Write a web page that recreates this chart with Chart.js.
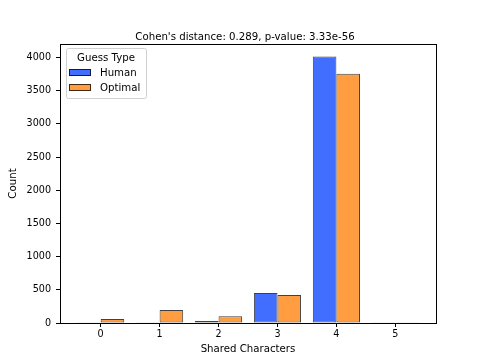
<!DOCTYPE html>
<html>
<head>
<meta charset="utf-8">
<script src="https://cdn.jsdelivr.net/npm/chart.js@4"></script>
<style>
  html, body { margin: 0; padding: 0; background: #fff; }
  #wrap { width: 484px; height: 363px; }
</style>
</head>
<body>
<div id="wrap"><canvas id="chart" width="484" height="363"></canvas></div>
<script>
// Дані гістограми: кількість спільних символів для людських і оптимальних здогадок.
const SHARED_CHARS = [0, 1, 2, 3, 4, 5];
const HUMAN_COUNTS = [10, 5, 30, 453, 4012, 2];
const OPTIMAL_COUNTS = [60, 196, 100, 423, 3755, 2];
const Y_TICKS = [0, 500, 1000, 1500, 2000, 2500, 3000, 3500, 4000];
const SERIES_NAMES = ["Human", "Optimal"];
const TITLE = "Cohen's distance: 0.289, p-value: 3.33e-56";

const COLORS = ["rgb(65,110,255)", "rgb(255,157,64)"];
const EDGE = "rgba(0,0,0,0.75)";
const FONT = "'DejaVu Sans', sans-serif";
const FSIZE = 10.2;   // заголовки, легенда
const TSIZE = 9.6;    // підписи поділок

const toPoints = (vals) => vals.map((v, i) => ({ x: SHARED_CHARS[i], y: v }));

// рамка навколо області графіка (як spines у matplotlib) + заголовок над нею
const frame = {
  id: "frame",
  afterDatasetsDraw(chart) {
    const { ctx, chartArea: a } = chart;
    ctx.save();
    ctx.strokeStyle = "#000";
    ctx.lineWidth = 1;
    ctx.strokeRect(Math.round(a.left) + 0.5, Math.round(a.top) + 0.5,
      Math.round(a.right - a.left), Math.round(a.bottom - a.top));
    ctx.font = `${FSIZE}px ${FONT}`;
    ctx.fillStyle = "#000";
    ctx.textAlign = "center";
    ctx.textBaseline = "middle";
    ctx.fillText(TITLE, (a.left + a.right) / 2 - 3, a.top - 7);
    ctx.restore();
  }
};

// легенда всередині області графіка, зліва вгорі
const innerLegend = {
  id: "innerLegend",
  afterDraw(chart) {
    const { ctx, chartArea: a } = chart;
    const x = a.left + 6, y = a.top + 4, w = 80, h = 50;
    ctx.save();
    ctx.fillStyle = "rgba(255,255,255,0.8)";
    ctx.strokeStyle = "#d0d0d0";
    ctx.lineWidth = 1;
    ctx.beginPath();
    ctx.roundRect(x + 0.5, y + 0.5, w, h, 2);
    ctx.fill();
    ctx.stroke();
    ctx.font = `${FSIZE}px ${FONT}`;
    ctx.fillStyle = "#000";
    ctx.textBaseline = "middle";
    ctx.textAlign = "center";
    ctx.fillText("Guess Type", x + w / 2, y + 10);
    ctx.textAlign = "left";
    SERIES_NAMES.forEach((name, i) => {
      const ry = y + 21 + i * 15;
      ctx.fillStyle = COLORS[i];
      ctx.fillRect(x + 3, ry, 22, 7);
      ctx.strokeStyle = EDGE;
      ctx.strokeRect(x + 3.5, ry + 0.5, 21, 6);
      ctx.fillStyle = "#000";
      ctx.fillText(name, x + 34, ry + 4);
    });
    ctx.restore();
  }
};

new Chart(document.getElementById("chart"), {
  type: "bar",
  data: {
    datasets: SERIES_NAMES.map((name, i) => ({
      label: name,
      data: toPoints(i === 0 ? HUMAN_COUNTS : OPTIMAL_COUNTS),
      backgroundColor: COLORS[i],
      borderColor: EDGE,
      borderWidth: 1,
      borderSkipped: false,
      categoryPercentage: 0.8,
      barPercentage: 1
    }))
  },
  options: {
    responsive: false,
    animation: false,
    layout: { padding: { left: 0, right: 48, top: 44, bottom: 0 } },
    plugins: {
      legend: { display: false },
      tooltip: { enabled: false },
      title: { display: false }
    },
    scales: {
      x: {
        type: "linear",
        min: -0.69,
        max: 5.69,
        offset: false,
        grid: { display: true, offset: false, drawOnChartArea: false, drawTicks: true, tickLength: 4, color: "#000" },
        border: { color: "#000", width: 1 },
        afterBuildTicks: (s) => { s.ticks = SHARED_CHARS.map((v) => ({ value: v })); },
        afterFit: (s) => { s.height = 40; },
        ticks: { color: "#000", font: { family: FONT, size: TSIZE }, padding: 2, maxRotation: 0, callback: (v) => String(v) },
        title: { display: true, text: "Shared Characters", color: "#000", font: { family: FONT, size: FSIZE }, padding: { top: 0, bottom: 8 } }
      },
      y: {
        min: 0,
        max: 4202,
        grid: { display: true, drawOnChartArea: false, drawTicks: true, tickLength: 4, color: "#000" },
        border: { color: "#000", width: 1 },
        afterBuildTicks: (s) => { s.ticks = Y_TICKS.map((v) => ({ value: v })); },
        afterFit: (s) => { s.width = 60; },
        ticks: { color: "#000", font: { family: FONT, size: TSIZE }, padding: 5, callback: (v) => String(v) },
        title: { display: true, text: "Count", color: "#000", font: { family: FONT, size: FSIZE }, padding: { top: 7, bottom: 0 } }
      }
    }
  },
  plugins: [frame, innerLegend]
});
</script>
</body>
</html>
